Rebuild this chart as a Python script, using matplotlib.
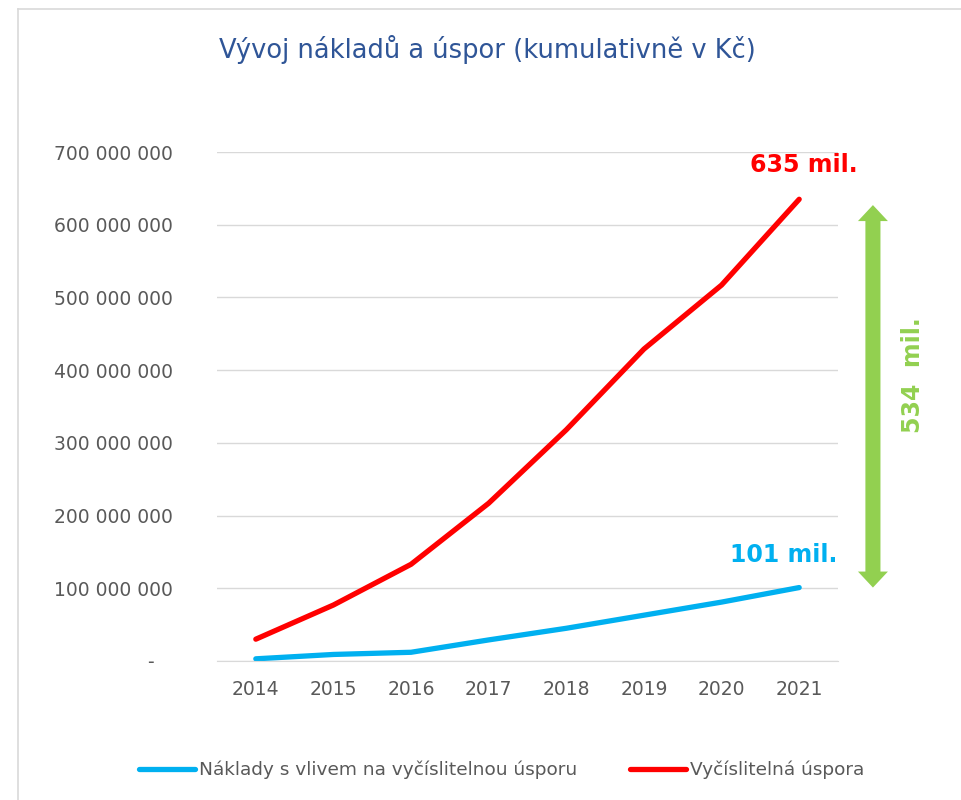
import matplotlib.pyplot as plt
from matplotlib.lines import Line2D
from matplotlib.patches import Polygon

# Data (cumulative, CZK)
years = [2014, 2015, 2016, 2017, 2018, 2019, 2020, 2021]
naklady = [3e6, 9e6, 12e6, 29e6, 45e6, 63e6, 81e6, 101e6]
uspora = [30e6, 77e6, 133e6, 217e6, 318e6, 429e6, 517e6, 635e6]
y_ticks = [0, 100e6, 200e6, 300e6, 400e6, 500e6, 600e6, 700e6]

title = 'Vývoj nákladů a úspor (kumulativně v Kč)'
label_naklady = 'Náklady s vlivem na vyčíslitelnou úsporu'
label_uspora = 'Vyčíslitelná úspora'

blue = '#00B0F0'
red = '#FF0000'
green = '#92D050'
grey_text = '#595959'
grid_col = '#D9D9D9'

plt.rcParams['font.family'] = ['DejaVu Sans']

fig = plt.figure(figsize=(9.61, 8), dpi=100)
ax = fig.add_axes([217 / 961, 139 / 800, 621 / 961, 509 / 800])

x = list(range(len(years)))
ax.plot(x, naklady, color=blue, lw=3.8, solid_capstyle='round')
ax.plot(x, uspora, color=red, lw=3.8, solid_capstyle='round')

ax.set_xlim(-0.5, len(years) - 0.5)
ax.set_ylim(0, 700e6)
ax.set_xticks(x)
ax.set_xticklabels([str(y) for y in years])
ax.set_yticks(y_ticks)
ylabels = ['-   ' if v == 0 else f'{int(v):,}'.replace(',', ' ') for v in y_ticks]
ax.set_yticklabels(ylabels)
ax.tick_params(axis='both', length=0, labelsize=13.5, colors=grey_text)
ax.tick_params(axis='y', pad=32)
ax.tick_params(axis='x', pad=14)

for s in ['top', 'right', 'left']:
    ax.spines[s].set_visible(False)
ax.spines['bottom'].set_color(grid_col)
ax.grid(axis='y', color=grid_col, lw=1)
ax.set_axisbelow(True)

# end labels
ax.annotate('635 mil.', xy=(x[-1], uspora[-1]), xytext=(3, 16), textcoords='offset points',
            ha='center', va='bottom', color=red, fontsize=17, fontweight='bold')
ax.annotate('101 mil.', xy=(x[-1], naklady[-1]), xytext=(-11, 15), textcoords='offset points',
            ha='center', va='bottom', color=blue, fontsize=17, fontweight='bold')

# double arrow showing the difference (shape sizes in data units)
ax_c = x[-1] + 0.95
shaft = 0.097
head = 0.193
head_len = 22e6
top = uspora[-1] - 8e6
bot = naklady[-1]
arrow_pts = [(ax_c, top), (ax_c + head, top - head_len), (ax_c + shaft, top - head_len),
             (ax_c + shaft, bot + head_len), (ax_c + head, bot + head_len), (ax_c, bot),
             (ax_c - head, bot + head_len), (ax_c - shaft, bot + head_len),
             (ax_c - shaft, top - head_len), (ax_c - head, top - head_len)]
ax.add_patch(Polygon(arrow_pts, closed=True, color=green, lw=0, clip_on=False))

mid = (uspora[-1] + naklady[-1]) / 2
ax.annotate(f'{round((uspora[-1] - naklady[-1]) / 1e6):d}  mil.', xy=(x[-1] + 1.47, mid),
            xytext=(0, 13), textcoords='offset points', rotation=90,
            ha='center', va='center', color=green, fontsize=17,
            fontweight='bold', annotation_clip=False)

fig.text(487 / 961, 1 - 50 / 800, title, ha='center', va='center',
         fontsize=18.5, color='#2F5597')

handles = [Line2D([], [], color=blue, lw=3.8, solid_capstyle='round'),
           Line2D([], [], color=red, lw=3.8, solid_capstyle='round')]
leg = fig.legend(handles, [label_naklady, label_uspora], loc='center', ncol=2,
                 bbox_to_anchor=(502 / 961, 1 - 770 / 800), frameon=False, fontsize=13.3,
                 handlelength=3.0, handletextpad=0.25, columnspacing=2.85)
for t in leg.get_texts():
    t.set_color(grey_text)

# outer frame lines
fig.add_artist(Line2D([17.5 / 961, 17.5 / 961], [0, 1 - 9 / 800], color=grid_col, lw=1.2))
fig.add_artist(Line2D([17.5 / 961, 1], [1 - 9 / 800, 1 - 9 / 800], color=grid_col, lw=1.2))

fig.savefig('out.png', dpi=100)
